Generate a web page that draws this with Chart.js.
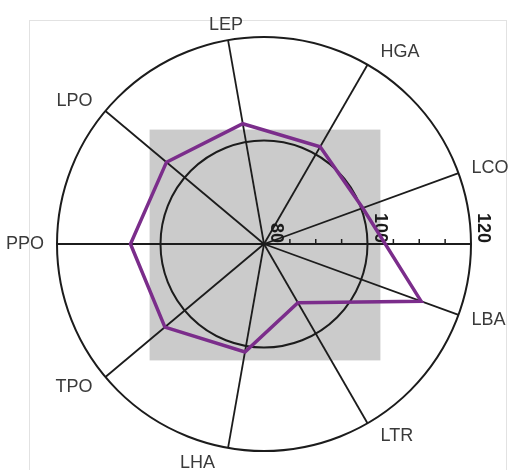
<!DOCTYPE html>
<html>
<head>
<meta charset="utf-8">
<script src="https://cdn.jsdelivr.net/npm/chart.js@4/dist/chart.umd.min.js"></script>
<style>
    body { margin: 0; background: #ffffff; }
    #wrap { position: relative; width: 513px; height: 470px; }
    #frame { position: absolute; left: 29px; top: 20px; width: 476px; height: 470px; border: 1px solid #e2e2e2; border-bottom: none; }
    #radar { position: absolute; left: 0; top: 0; }
</style>
</head>
<body>
<div id="wrap">
    <div id="frame"></div>
    <canvas id="radar" width="513" height="470"></canvas>
</div>
<script>
var categories = ["LEP", "HGA", "LCO", "LBA", "LTR", "LHA", "TPO", "PPO", "LPO"];
var scores = [103.6, 101.7, 100.3, 112.3, 93.1, 101.2, 105.0, 105.8, 104.6];
var axisMin = 80;
var axisMax = 120;
var labelledTicks = [80, 100, 120];
var minorTicks = [85, 90, 95, 105, 110, 115];
var shadeLimit = 102.3;

var lineColor = "#1c1c1c";
var textColor = "#3a3a3a";

// gray square behind the inner ring
var shadePlugin = {
    id: "shade",
    beforeDraw: function (chart) {
        var scale = chart.scales.r;
        var ctx = chart.ctx;
        var h = scale.getDistanceFromCenterForValue(shadeLimit);
        ctx.save();
        ctx.fillStyle = "#cbcbcb";
        ctx.fillRect(scale.xCenter - h + 1, scale.yCenter - h + 1, 2 * h, 2 * h);
        ctx.restore();
    }
};

// horizontal value axis with its ticks and rotated labels
var valueAxisPlugin = {
    id: "valueAxis",
    beforeDatasetsDraw: function (chart) {
        var scale = chart.scales.r;
        var ctx = chart.ctx;
        var cx = scale.xCenter;
        var cy = scale.yCenter;
        ctx.save();
        ctx.strokeStyle = lineColor;
        ctx.lineWidth = 1.8;
        ctx.beginPath();
        ctx.moveTo(cx, cy);
        ctx.lineTo(cx + scale.getDistanceFromCenterForValue(axisMax), cy);
        ctx.stroke();

        ctx.lineWidth = 1.5;
        for (var i = 0; i < minorTicks.length; i++) {
            var x = cx + scale.getDistanceFromCenterForValue(minorTicks[i]);
            ctx.beginPath();
            ctx.moveTo(x, cy);
            ctx.lineTo(x, cy - 5);
            ctx.stroke();
        }

        ctx.fillStyle = "#1a1a1a";
        ctx.font = "bold 18px 'Liberation Sans', Arial, sans-serif";
        ctx.textAlign = "right";
        ctx.textBaseline = "alphabetic";
        for (var j = 0; j < labelledTicks.length; j++) {
            var lx = cx + scale.getDistanceFromCenterForValue(labelledTicks[j]);
            ctx.save();
            ctx.translate(lx + 7, cy - 1);
            ctx.rotate(Math.PI / 2);
            ctx.fillText(String(labelledTicks[j]), 0, 0);
            ctx.restore();
        }
        ctx.restore();
    }
};

// category names just outside the outer ring
var nameLabelPlugin = {
    id: "nameLabels",
    afterDraw: function (chart) {
        var scale = chart.scales.r;
        var ctx = chart.ctx;
        ctx.save();
        ctx.fillStyle = textColor;
        ctx.font = "18px 'Liberation Sans', Arial, sans-serif";
        ctx.textAlign = "center";
        ctx.textBaseline = "middle";
        for (var i = 0; i < categories.length; i++) {
            var a = scale.getIndexAngle(i);
            var end = scale.getPointPosition(i, scale.drawingArea);
            var s = Math.sin(a);
            var c = Math.cos(a);
            var w = ctx.measureText(categories[i]).width;
            var x = end.x - 2;
            if (!(Math.abs(s) < 0.2 && c > 0)) {
                x = end.x + (s > 0 ? 1 : -1) * (13 + w / 2);
            }
            var y = end.y - c * 15;
            ctx.fillText(categories[i], x, y);
        }
        ctx.restore();
    }
};

var config = {
    type: "radar",
    data: {
        labels: categories,
        datasets: [{
            data: scores,
            borderColor: "#7b2d8b",
            borderWidth: 3.5,
            pointRadius: 0,
            pointHoverRadius: 0,
            fill: false,
            tension: 0
        }]
    },
    options: {
        responsive: false,
        animation: false,
        layout: {
            padding: { left: 57, right: 42, top: 37, bottom: 19 }
        },
        plugins: {
            legend: { display: false },
            tooltip: { enabled: false }
        },
        scales: {
            r: {
                min: axisMin,
                max: axisMax,
                startAngle: -10,
                ticks: { display: false, stepSize: 20 },
                grid: { circular: true, color: lineColor, lineWidth: 2 },
                angleLines: { color: lineColor, lineWidth: 1.8 },
                pointLabels: { display: false }
            }
        }
    },
    plugins: [shadePlugin, valueAxisPlugin, nameLabelPlugin]
};

new Chart(document.getElementById("radar"), config);
</script>
</body>
</html>
